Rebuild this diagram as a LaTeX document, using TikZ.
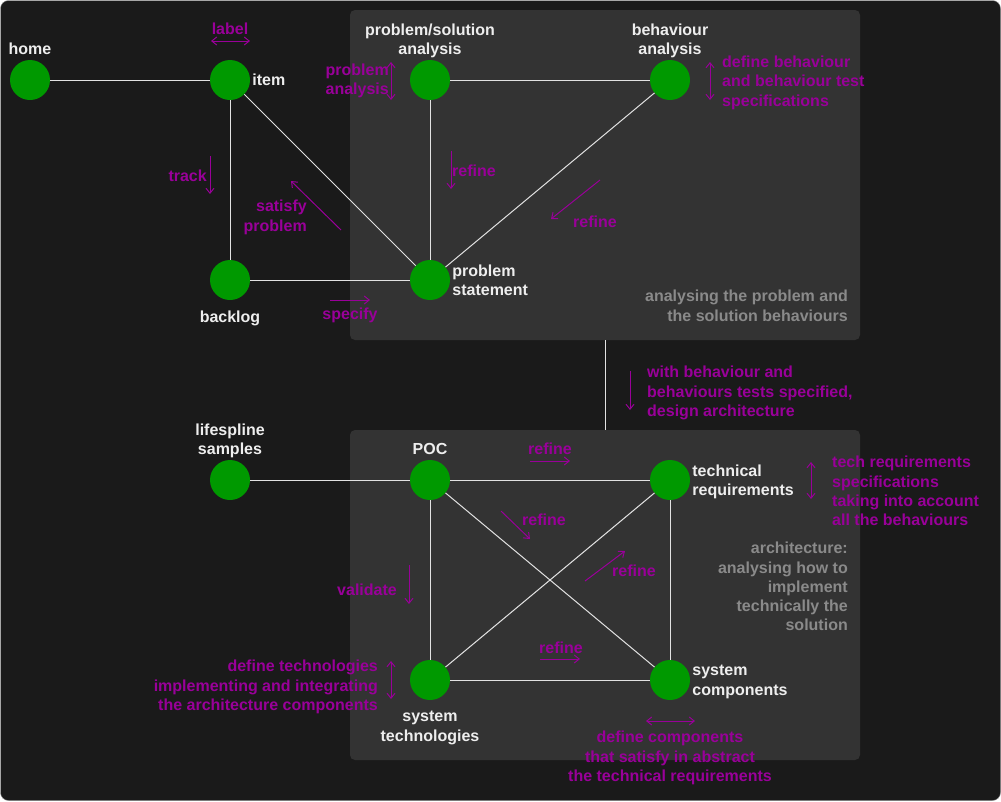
\documentclass[tikz,border=0pt]{standalone}
\usepackage{fontspec}
\setmainfont{Liberation Sans}
\usepackage{tikz}
\usetikzlibrary{arrows.meta,positioning}
\definecolor{bgdark}{HTML}{1A1A1A}
\definecolor{framegray}{HTML}{9A9A9A}
\definecolor{panelgray}{HTML}{333333}
\definecolor{nodegreen}{HTML}{009900}
\definecolor{notepurple}{HTML}{990099}
\definecolor{captiongray}{HTML}{8A8A8A}
\definecolor{labelwhite}{HTML}{EEEEEE}
\definecolor{edgegray}{HTML}{E2E2E2}
\newcommand{\notefont}{\bfseries\fontsize{16}{19.2}\selectfont}
\tikzstyle{vertex}=[circle,fill=nodegreen,minimum size=40pt,inner sep=0pt]
\tikzstyle{panel}=[rectangle,rounded corners=5pt,fill=panelgray,minimum width=510pt,minimum height=330pt,inner sep=0pt]
\tikzstyle{edge}=[draw=edgegray,line width=1pt]
\tikzstyle{vname}=[text=labelwhite,font=\notefont,inner sep=0pt,align=center]
\tikzstyle{note}=[text=notepurple,font=\notefont,inner sep=0pt]
\tikzstyle{caption}=[text=captiongray,font=\notefont,inner sep=0pt,align=right]
\tikzstyle{hint}=[draw=notepurple,line width=1pt,-{Straight Barb[length=5pt,width=8pt]}]
\tikzstyle{hintboth}=[hint,{Straight Barb[length=5pt,width=8pt]}-{Straight Barb[length=5pt,width=8pt]}]

\begin{document}
\begin{tikzpicture}[x=1pt,y=-1pt]

    \useasboundingbox (0,0) rectangle (1001,801);
    \draw[draw=framegray, fill=bgdark, rounded corners=8pt] (0.5,0.5) rectangle (1000.5,800.5);

    % the two phases
    \node[panel] (probpanel) at (605,175) {};
    \node[panel] (archpanel) at (605,595) {};
    \path[edge] (probpanel.south) -- (archpanel.north);

    \foreach \x/\y/\name in {30/80/home, 230/80/item, 230/280/backlog, 430/280/probstate, 430/80/probsol, 670/80/behana, 230/480/lifespline, 430/480/poc, 670/480/techreq, 430/680/systech, 670/680/syscomp}
        \node[vertex] (\name) at (\x,\y) {};

    \foreach \source/ \dest in {home/item, item/backlog, item/probstate, backlog/probstate, probsol/probstate, probsol/behana, behana/probstate, lifespline/poc, poc/techreq, poc/systech, poc/syscomp, techreq/systech, techreq/syscomp, systech/syscomp}
        \path[edge] (\source) -- (\dest);

    % vertex names
    \node[vname, above=5pt of home] (homelabel) {home};
    \node[vname, right=2pt of item] (itemlabel) {item};
    \node[vname, below=10pt of backlog] (backloglabel) {backlog};
    \node[vname, align=left, right=2pt of probstate] (probstatelabel) {problem\\statement};
    \node[vname, above=2pt of probsol] (probsollabel) {problem/solution\\analysis};
    \node[vname, above=2pt of behana] (behanalabel) {behaviour\\analysis};
    \node[vname, above=2pt of lifespline] (lifesplinelabel) {lifespline\\samples};
    \node[vname, above=5pt of poc] (poclabel) {POC};
    \node[vname, align=left, right=2pt of techreq, yshift=-2pt] (techreqlabel) {technical\\requirements};
    \node[vname, below=11pt of systech] (systechlabel) {system\\technologies};
    \node[vname, align=left, right=2pt of syscomp, yshift=-2pt] (syscomplabel) {system\\components};

    % notes
    \node[note] (labelnote) at (230,29) {label};
    \node[note, anchor=east] (tracknote) at (207,176) {track};
    \node[note, align=right, anchor=north east] (satisfynote) at (307,200) {satisfy\\problem};
    \node[note] (specifynote) at (350,315) {specify};
    \node[note, align=right, anchor=north east] (probananote) at (389,64) {problem\\analysis};
    \node[note, anchor=west] (refinea) at (452,171) {refine};
    \node[note] (refineb) at (595,222) {refine};
    \node[note, align=left, anchor=north west] (behnote) at (722,56) {define behaviour\\and behaviour test\\specifications};
    \node[caption, anchor=north east] (probcaption) at (848,290) {analysing the problem and\\the solution behaviours};
    \node[note, align=left, anchor=north west] (archnote) at (647,366) {with behaviour and\\behaviours tests specified,\\design architecture};
    \node[note] (refinec) at (550,449) {refine};
    \node[note, align=left, anchor=north west] (technote) at (832,456) {tech requirements\\specifications\\taking into account\\all the behaviours};
    \node[note] (refined) at (544,520) {refine};
    \node[note] (refinee) at (634,571) {refine};
    \node[caption, anchor=north east] (archcaption) at (848,542) {architecture:\\analysing how to\\implement\\technically the\\solution};
    \node[note, anchor=east] (validatenote) at (397,590) {validate};
    \node[note] (refinef) at (561,648) {refine};
    \node[note, align=right, anchor=north east] (deftechnote) at (378,660) {define technologies\\implementing and integrating\\the architecture components};
    \node[note, align=center, anchor=north] (defcompnote) at (670,731) {define components\\that satisfy in abstract\\the technical requirements};

    \foreach \xa/\ya/\xb/\yb/\name in {210/156/210/194/track, 341/230/291/181/satisfy, 330/300/370/300/specify, 451/151/451/189/refinea, 600/180/551/219/refineb, 630/371/630/410/arch, 530/461/570/461/refinec, 501/511/530/539/refined, 585/581/625/551/refinee, 409/565/409/604/validate, 540/659/580/659/refinef}
    {
        \coordinate (\name from) at (\xa,\ya);
        \coordinate (\name to) at (\xb,\yb);
        \draw[hint] (\name from) -- (\name to);
    }

    \foreach \xa/\ya/\xb/\yb/\name in {211/41/250/41/label, 391/62/391/100/probana, 710/62/710/100/beh, 811/462/811/499/tech, 391/661/391/699/deftech, 646/721/695/721/defcomp}
    {
        \coordinate (\name from) at (\xa,\ya);
        \coordinate (\name to) at (\xb,\yb);
        \draw[hintboth] (\name from) -- (\name to);
    }

\end{tikzpicture}
\end{document}
